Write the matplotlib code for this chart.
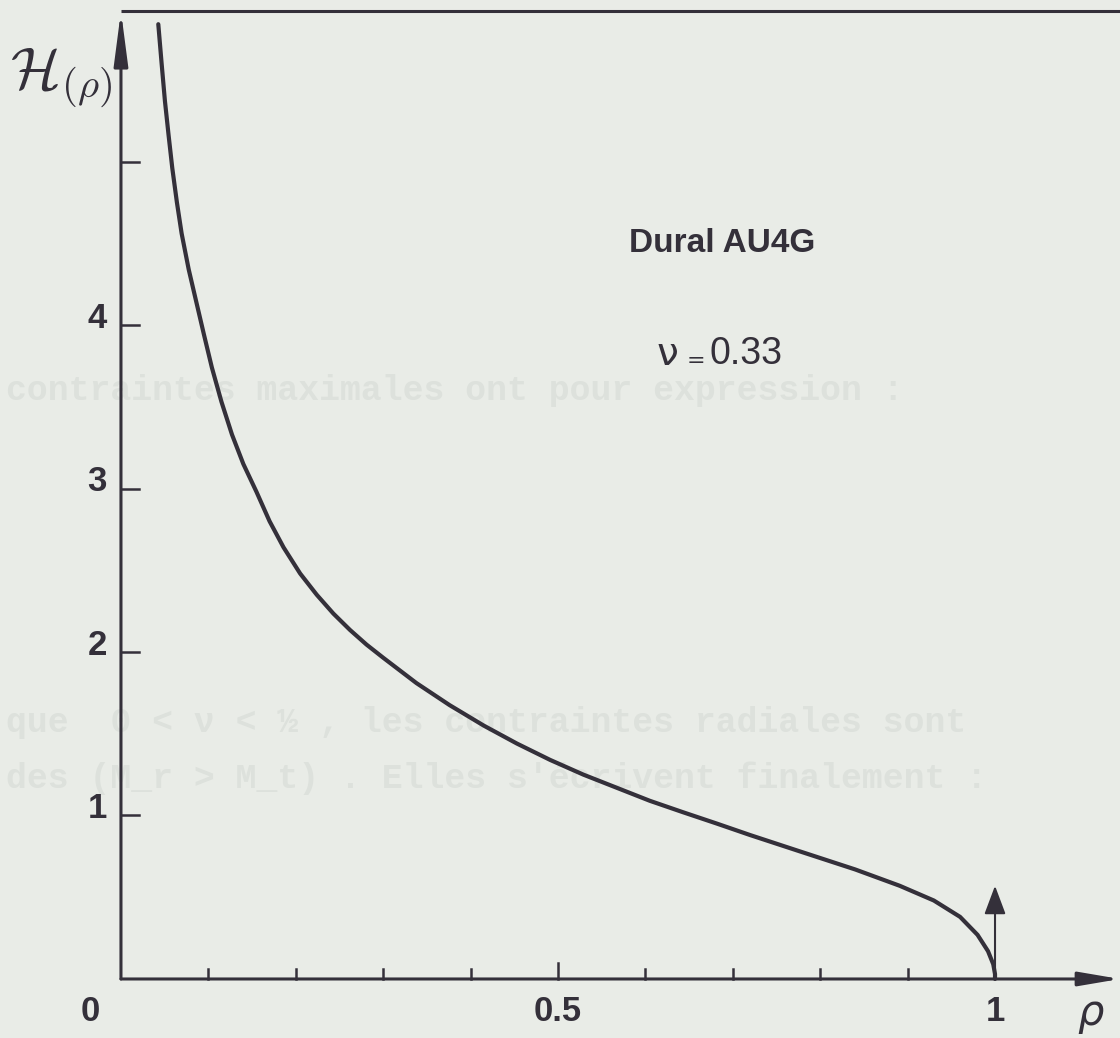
import matplotlib
matplotlib.use("Agg")
import matplotlib.pyplot as plt

# Curve H(rho), values
rho = [0.0427, 0.0465, 0.0503, 0.0545, 0.0587, 0.0640, 0.0694, 0.0775, 0.0858,
       0.0950, 0.104, 0.115, 0.127, 0.140, 0.155, 0.170, 0.186, 0.205, 0.224,
       0.243, 0.262, 0.281, 0.300, 0.338, 0.376, 0.415, 0.453, 0.491, 0.529,
       0.567, 0.605, 0.643, 0.682, 0.720, 0.777, 0.840, 0.891, 0.930, 0.960,
       0.980, 0.992, 0.998, 1.000, 1.000]
H = [5.84, 5.60, 5.37, 5.16, 4.96, 4.75, 4.56, 4.34, 4.15,
     3.94, 3.74, 3.53, 3.33, 3.15, 2.98, 2.80, 2.64, 2.48, 2.35,
     2.235, 2.135, 2.045, 1.965, 1.81, 1.675, 1.55, 1.44, 1.34, 1.25,
     1.17, 1.09, 1.02, 0.95, 0.88, 0.78, 0.67, 0.57, 0.48, 0.38,
     0.27, 0.17, 0.09, 0.03, 0.00]

x_ticks = [0.1, 0.2, 0.3, 0.4, 0.5, 0.6, 0.7, 0.8, 0.9]
x_labels = {0.0: "0", 0.5: "0.5", 1.0: "1"}
y_ticks = [1, 2, 3, 4, 5]
y_labels = {1: "1", 2: "2", 3: "3", 4: "4"}

material = "Dural AU4G"
poisson = "0.33"

# faint print-through from the back of the page
ghost_lines = [
    (3.6, "contraintes maximales ont pour expression :"),
    (1.57, "que  0 < ν < ½ , les contraintes radiales sont"),
    (1.23, "des (M_r > M_t) . Elles s'écrivent finalement :"),
]

paper = "#e9ece7"
ink = "#34303a"
ghost = "#dde1dc"

fig = plt.figure(figsize=(11.2, 10.38), dpi=100, facecolor=paper)
ax = fig.add_axes([0, 0, 1, 1])
ax.set_xlim(-0.1384, 1.143)
ax.set_ylim(-0.361, 5.988)
ax.axis("off")

for gy, txt in ghost_lines:
    ax.text(-0.132, gy, txt, fontsize=25, family="Liberation Mono",
            fontweight="bold", color=ghost, va="center", ha="left", zorder=0)

top = 5.92
# axes with arrows
ax.annotate("", xy=(0, top), xytext=(0, 0),
            arrowprops=dict(arrowstyle="-|>,head_length=1.3,head_width=0.17",
                            lw=2.2, color=ink, mutation_scale=25, shrinkA=0, shrinkB=0))
ax.annotate("", xy=(1.143, 0), xytext=(0, 0),
            arrowprops=dict(arrowstyle="-|>,head_length=1.0,head_width=0.17",
                            lw=2.2, color=ink, mutation_scale=25, shrinkA=0, shrinkB=0))
ax.plot([0, 1.143], [top, top], color=ink, lw=2.2, solid_capstyle="butt")

# ticks
for t in x_ticks:
    h = 0.1 if t == 0.5 else 0.06
    ax.plot([t, t], [0, h], color=ink, lw=1.8)
for t in y_ticks:
    ax.plot([0, 0.021], [t, t], color=ink, lw=1.8)

for t, s in x_labels.items():
    ax.text(t - 0.035 if t == 0 else t, -0.2, s, fontsize=25, family="Liberation Sans",
            fontweight="bold", color=ink, ha="center", va="center")
for t, s in y_labels.items():
    ax.text(-0.027, t + 0.04, s, fontsize=25, family="Liberation Sans",
            fontweight="bold", color=ink, ha="center", va="center")

ax.text(1.11, -0.22, r"$\rho$", fontsize=30, color=ink, ha="center", va="center")
ax.text(-0.127, 5.51, r"$\mathcal{H}_{(\rho)}$", fontsize=42, color=ink,
        ha="left", va="center", math_fontfamily="cm")

# curve
ax.plot(rho, H, color=ink, lw=3.0, solid_capstyle="round", solid_joinstyle="round")

# arrow at rho = 1
ax.annotate("", xy=(1.0, 0.57), xytext=(1.0, 0),
            arrowprops=dict(arrowstyle="-|>,head_length=0.8,head_width=0.3",
                            lw=1.5, color=ink, mutation_scale=22, shrinkA=0, shrinkB=0))

# annotations
ax.text(0.688, 4.5, material, fontsize=24, family="Liberation Sans",
        fontweight="bold", color=ink, ha="center", va="center")
ax.text(0.625, 3.82, "ν", fontsize=28, color=ink, ha="center", va="center")
ax.text(0.658, 3.78, "=", fontsize=16, color=ink, ha="center", va="center")
ax.text(0.673, 3.82, poisson, fontsize=27, family="Liberation Sans",
        color=ink, ha="left", va="center")

fig.savefig("out.png", dpi=100, facecolor=paper)
